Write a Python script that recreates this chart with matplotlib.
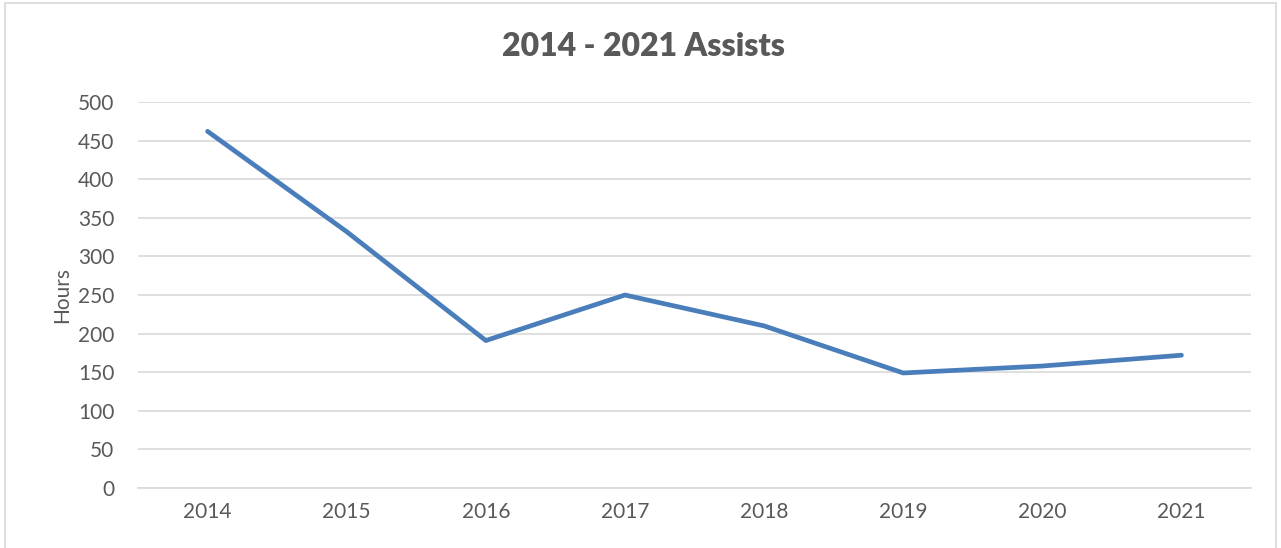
import matplotlib
matplotlib.use("Agg")
import matplotlib.pyplot as plt
from matplotlib.patches import Rectangle

# Data
years = ["2014", "2015", "2016", "2017", "2018", "2019", "2020", "2021"]
hours = [462, 332, 191, 250, 210, 149, 158, 172]
y_ticks = [0, 50, 100, 150, 200, 250, 300, 350, 400, 450, 500]

plt.rcParams["font.family"] = ["Lato", "DejaVu Sans"]
text_color = "#595959"

fig = plt.figure(figsize=(12.81, 5.48), dpi=100)
ax = fig.add_axes([138 / 1281, 1 - 488 / 548, (1251 - 138) / 1281, (488 - 102) / 548])

x = list(range(len(years)))
ax.plot(x, hours, color="#4a7ebb", linewidth=3.4, solid_capstyle="round", solid_joinstyle="round")

ax.set_xlim(-0.5, len(years) - 0.5)
ax.set_ylim(0, 500)
ax.set_yticks(y_ticks)
ax.set_xticks(x)
ax.set_xticklabels(years)
ax.tick_params(axis="both", length=0, labelsize=15, labelcolor=text_color)
ax.tick_params(axis="x", pad=10)
ax.tick_params(axis="y", pad=17)
ax.grid(axis="y", color="#d9d9d9", linewidth=1.2)
ax.set_axisbelow(True)
for side in ["top", "right", "left"]:
    ax.spines[side].set_visible(False)
ax.spines["bottom"].set_color("#d9d9d9")
ax.spines["bottom"].set_linewidth(1.2)

ax.set_ylabel("Hours", fontsize=15, color=text_color, labelpad=4)
fig.text(643 / 1281, 1 - 47 / 548, "2014 - 2021 Assists", ha="center", va="center",
         fontsize=23, fontweight="heavy", color=text_color)

# light frame around the chart area
fig.patches.append(Rectangle((5 / 1281, -0.05), 1271 / 1281, 1.05 - 3 / 548,
                             transform=fig.transFigure, fill=False,
                             edgecolor="#d9d9d9", linewidth=1.2))

fig.savefig("out.png", dpi=100)
